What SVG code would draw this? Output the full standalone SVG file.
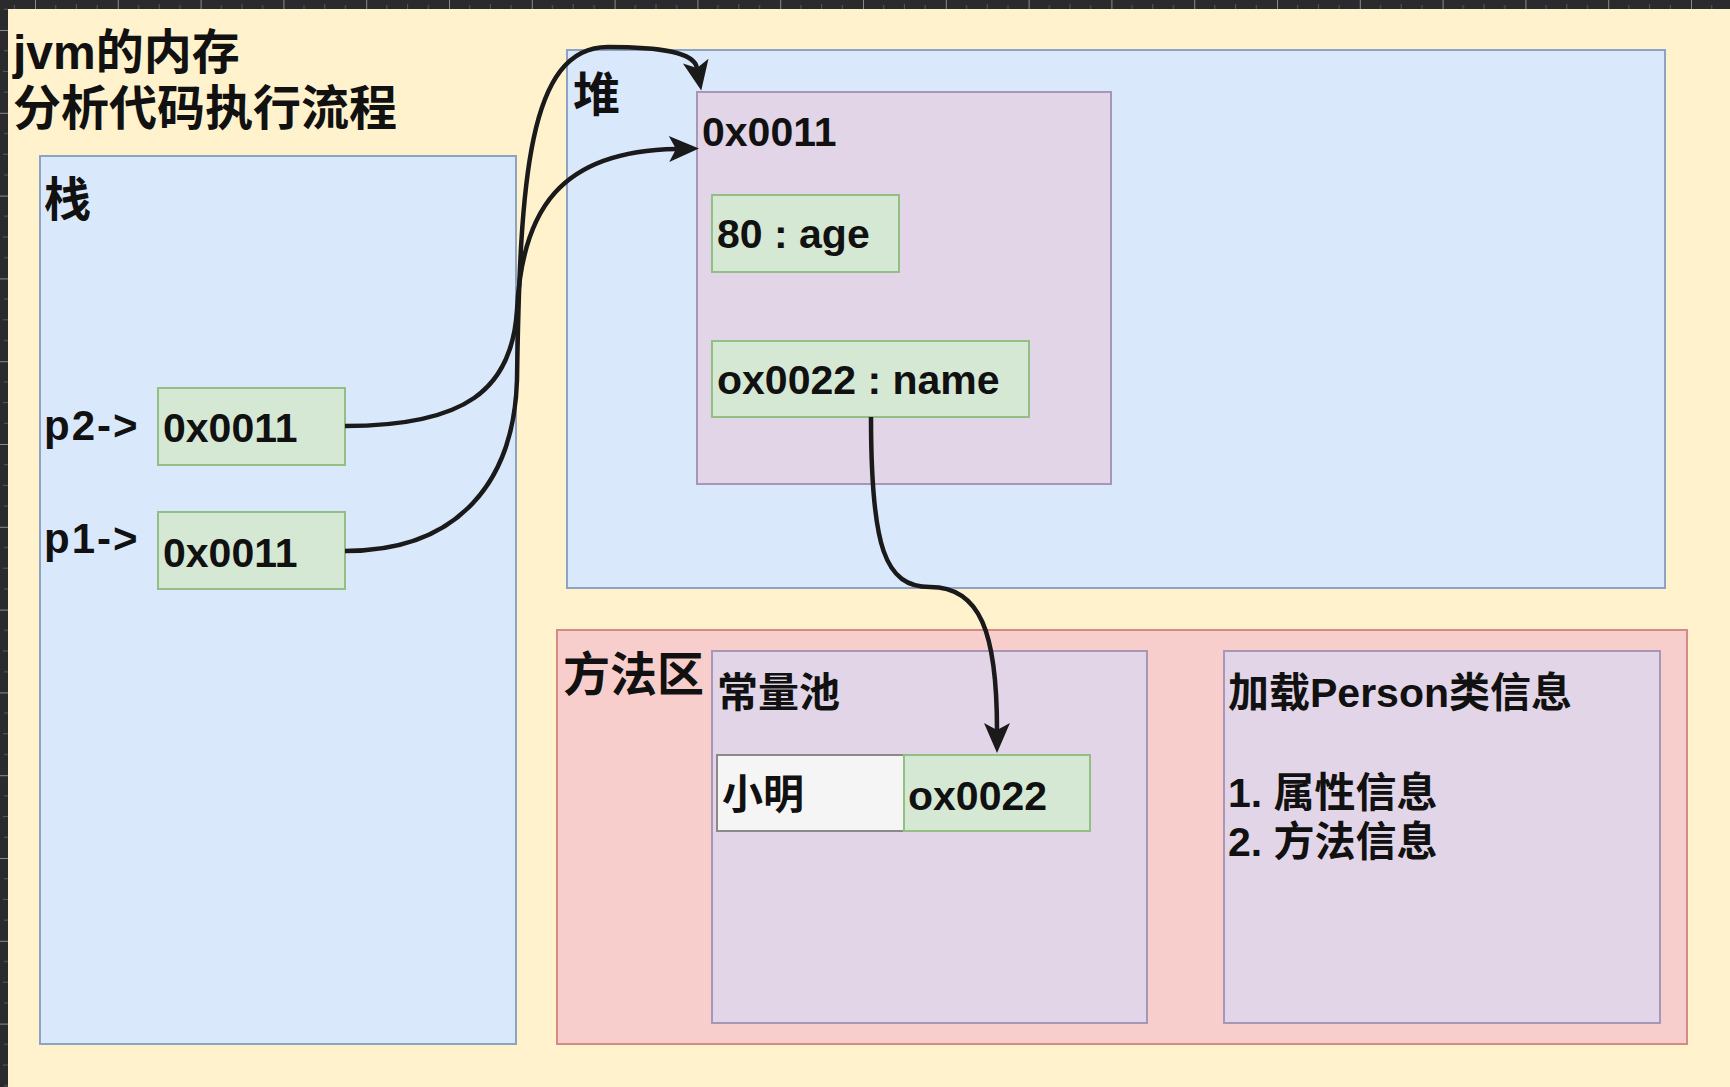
<svg xmlns="http://www.w3.org/2000/svg" width="1730" height="1087" viewBox="0 0 1730 1087">
  <defs>
    <style>
      .t { font-family: 'Liberation Sans', 'Noto Sans CJK SC', sans-serif; font-weight: bold; fill: #111; }
      .big { font-size: 47px; }
      .title { font-size: 48px; }
      .mid { font-size: 41px; }
      .lbl { font-size: 42px; letter-spacing: 2px; }
      .blue { fill: #dae8fc; stroke: #8ea3c2; stroke-width: 2; }
      .purple { fill: #e1d5e7; stroke: #a995b5; stroke-width: 2; }
      .green { fill: #d5e8d4; stroke: #93bf84; stroke-width: 2; }
      .red { fill: #f8cecc; stroke: #d48a85; stroke-width: 2; }
      .gray { fill: #f5f5f5; stroke: #8a8a8a; stroke-width: 2; }
      .edge { fill: none; stroke: #1a1a1a; stroke-width: 4.5; }
    </style>
    <marker id="arrow" markerUnits="userSpaceOnUse" viewBox="-2 -16 36 32" markerWidth="36" markerHeight="32" refX="7" refY="0" orient="auto">
      <path d="M0,-13 L30,0 L0,13 L7,0 Z" fill="#1a1a1a"/>
    </marker>
    <pattern id="tickX" patternUnits="userSpaceOnUse" x="35" y="0" width="82.8" height="9">
      <line x1="0.5" y1="0" x2="0.5" y2="9" stroke="#8a8a8a" stroke-width="1"/>
      <line x1="20.7" y1="5" x2="20.7" y2="9" stroke="#5a5a5a" stroke-width="1"/>
      <line x1="41.4" y1="4" x2="41.4" y2="9" stroke="#5a5a5a" stroke-width="1"/>
      <line x1="62.1" y1="5" x2="62.1" y2="9" stroke="#5a5a5a" stroke-width="1"/>
    </pattern>
    <pattern id="tickY" patternUnits="userSpaceOnUse" x="0" y="30" width="8" height="82.8">
      <line x1="0" y1="0.5" x2="8" y2="0.5" stroke="#8a8a8a" stroke-width="1"/>
      <line x1="4" y1="20.7" x2="8" y2="20.7" stroke="#5a5a5a" stroke-width="1"/>
      <line x1="3" y1="41.4" x2="8" y2="41.4" stroke="#5a5a5a" stroke-width="1"/>
      <line x1="4" y1="62.1" x2="8" y2="62.1" stroke="#5a5a5a" stroke-width="1"/>
    </pattern>
  </defs>

  <!-- canvas frame / rulers -->
  <rect x="0" y="0" width="1730" height="1087" fill="#2b2b2e"/>
  <rect x="0" y="0" width="1730" height="9" fill="url(#tickX)"/>
  <rect x="0" y="0" width="8" height="1087" fill="url(#tickY)"/>
  <rect x="8" y="9" width="1722" height="1078" fill="#fff2cc"/>

  <g id="title">
    <text class="t title" x="13" y="69">jvm的内存</text>
    <text class="t title" x="13" y="125">分析代码执行流程</text>
  </g>

  <g id="stack">
    <rect class="blue" x="40" y="156" width="476" height="888"/>
    <text class="t big" x="44" y="216">栈</text>
  </g>
  <g id="p2-label">
    <text class="t lbl" x="44" y="440">p2-&gt;</text>
  </g>
  <g id="p1-label">
    <text class="t lbl" x="44" y="553">p1-&gt;</text>
  </g>
  <g id="p2">
    <rect class="green" x="158" y="388" width="187" height="77"/>
    <text class="t mid" x="163" y="442">0x0011</text>
  </g>
  <g id="p1">
    <rect class="green" x="158" y="512" width="187" height="77"/>
    <text class="t mid" x="163" y="567">0x0011</text>
  </g>

  <g id="heap">
    <rect class="blue" x="567" y="50" width="1098" height="538"/>
    <text class="t big" x="573" y="111">堆</text>
  </g>
  <g id="object">
    <rect class="purple" x="697" y="92" width="414" height="392"/>
    <text class="t mid" x="702" y="146">0x0011</text>
  </g>
  <g id="age">
    <rect class="green" x="712" y="195" width="187" height="77"/>
    <text class="t mid" x="717" y="248">80 : age</text>
  </g>
  <g id="name">
    <rect class="green" x="712" y="341" width="317" height="76"/>
    <text class="t mid" x="717" y="394">ox0022 : name</text>
  </g>

  <g id="method-area">
    <rect class="red" x="557" y="630" width="1130" height="414"/>
    <text class="t big" x="563" y="691">方法区</text>
  </g>
  <g id="constant-pool">
    <rect class="purple" x="712" y="651" width="435" height="372"/>
    <text class="t mid" x="717" y="707">常量池</text>
  </g>
  <g id="xiaoming">
    <rect class="gray" x="717" y="755" width="187" height="76"/>
    <text class="t mid" x="722" y="809" fill="#222">小明</text>
  </g>
  <g id="ox0022">
    <rect class="green" x="904" y="755" width="186" height="76"/>
    <text class="t mid" x="908" y="810">ox0022</text>
  </g>
  <g id="class-info">
    <rect class="purple" x="1224" y="651" width="436" height="372"/>
    <text class="t mid" x="1228" y="707">加载Person类信息</text>
    <text class="t mid" x="1228" y="807">1. 属性信息</text>
    <text class="t mid" x="1228" y="856">2. 方法信息</text>
  </g>

  <g id="connectors">
    <path class="edge" d="M345,426 C465,426 512,390 517,310 C522,210 560,151 676,149" marker-end="url(#arrow)"/>
    <path class="edge" d="M345,551 C460,551 514,480 517,380 C520,180 528,47 608,47 C660,47 694,52 697,68" marker-end="url(#arrow)"/>
    <path class="edge" d="M871,417 C871,548 885,587 930,587 C980,587 997,632 997,730" marker-end="url(#arrow)"/>
  </g>
</svg>
